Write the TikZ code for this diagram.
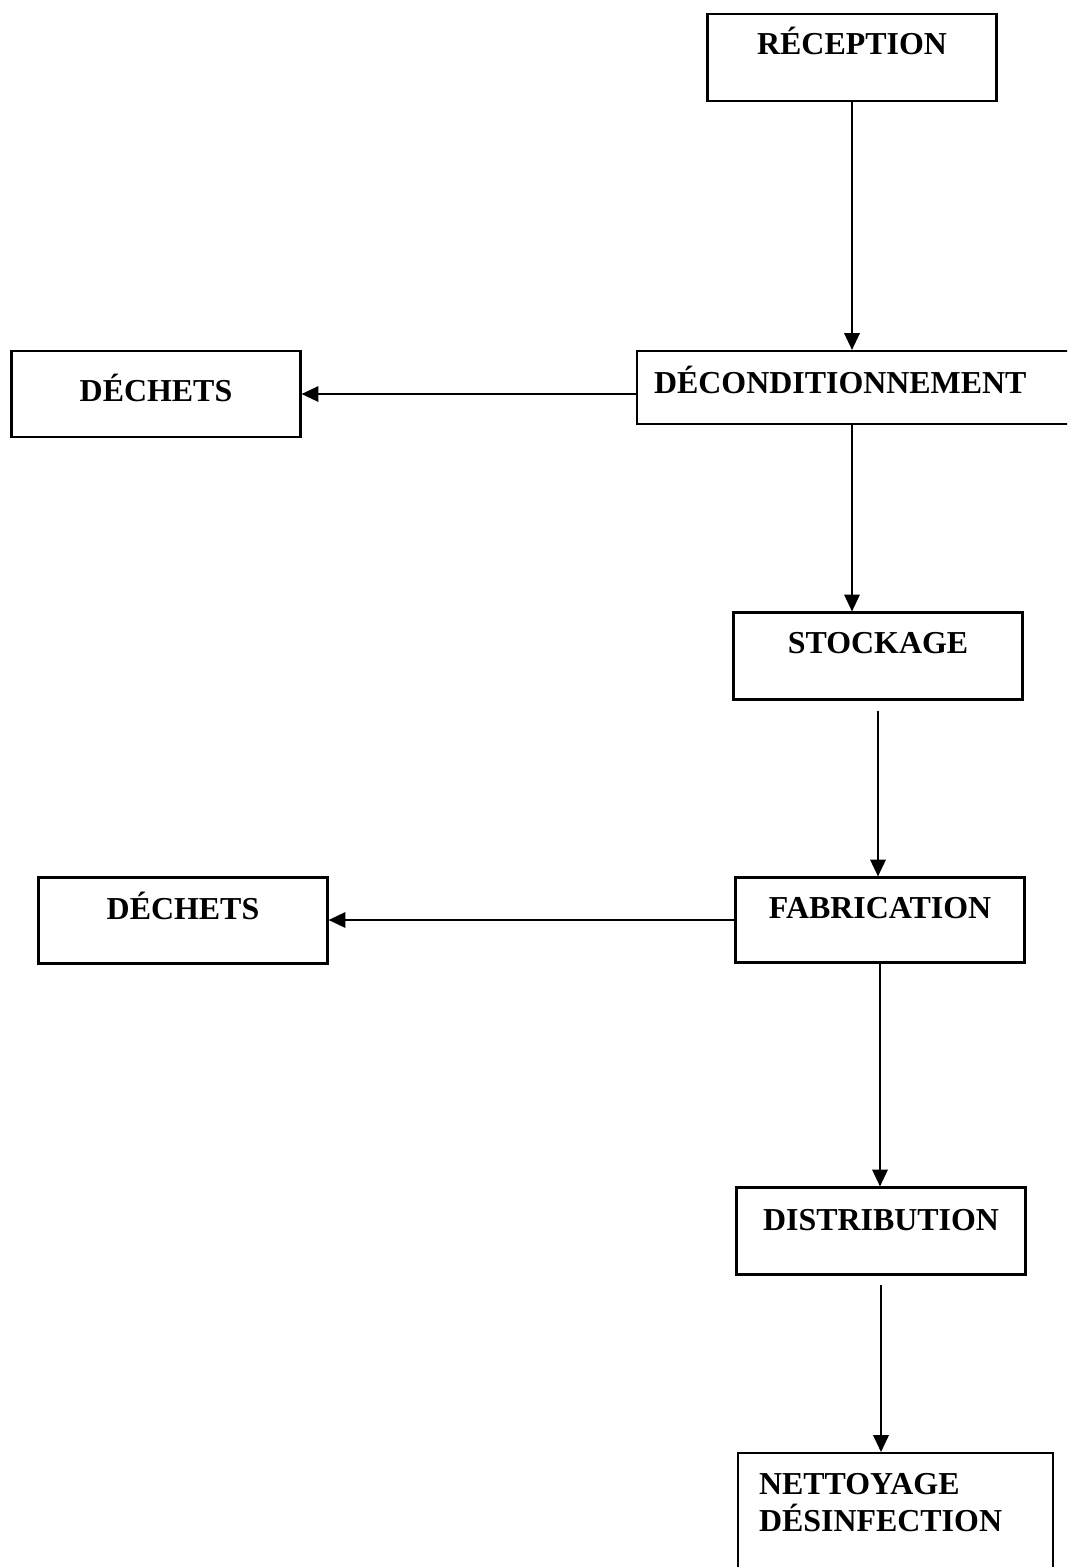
\documentclass[tikz,border=0pt]{standalone}
\usepackage{fontspec}
\setmainfont{Liberation Serif}
\usetikzlibrary{arrows.meta}

\tikzset{
  stepbox/.style={draw, line width=1.5pt, inner sep=0pt,
    minimum width=7.225cm, minimum height=2.175cm,
    font=\bfseries\fontsize{22.7}{26.3}\selectfont,
    text height=14pt, text depth=16pt},
  flow/.style={line width=1.4pt, -{Triangle[length=12pt,width=11pt]}}
}

\begin{document}
\begin{tikzpicture}[x=0.025cm, y=-0.025cm]
\useasboundingbox (0,0) rectangle (1067,1567);
\clip (0,0) rectangle (1067,1567);

% main line
\node[stepbox, text height=13.2pt, text depth=16.8pt] (reception) at (852,57.5) {RÉCEPTION};
\node[stepbox, anchor=west, minimum height=1.825cm, inner xsep=0.425cm,
      text width=11.15cm, align=left, text height=19pt, text depth=11pt] (decon) at (636,387.5) {DÉCONDITIONNEMENT};
\node[stepbox, text height=13.5pt, text depth=16.5pt] (stockage) at (878,656) {STOCKAGE};
\node[stepbox, minimum height=2.125cm] (fabrication) at (880,920) {FABRICATION};
\node[stepbox, text height=14.5pt, text depth=15.5pt] (distribution) at (881,1231) {DISTRIBUTION};
\node[stepbox, anchor=north west, minimum width=0pt, minimum height=0pt,
      inner xsep=0.525cm, text width=6.825cm, align=left,
      text height=1.025cm, text depth=4cm] (nettoyage) at (737,1452) {NETTOYAGE\\DÉSINFECTION};

% waste
\node[stepbox, minimum height=2.15cm, text height=20pt, text depth=10pt] (dechetsA) at (156,394) {DÉCHETS};
\node[stepbox, minimum height=2.15cm] (dechetsB) at (183,920.5) {DÉCHETS};

% connectors
\draw[flow] (reception.south) -- (reception.south |- decon.north);
\draw[flow] (decon.west |- dechetsA.east) -- (dechetsA.east);
\draw[flow] (reception.south |- decon.south) -- (reception.south |- stockage.north);
\draw[flow, shorten <=0.25cm] (stockage.south) -- (stockage.south |- fabrication.north);
\draw[flow] (fabrication.west) -- (fabrication.west -| dechetsB.east);
\draw[flow] (fabrication.south) -- (fabrication.south |- distribution.north);
\draw[flow, shorten <=0.225cm] (distribution.south) -- (distribution.south |- nettoyage.north);
\end{tikzpicture}
\end{document}
